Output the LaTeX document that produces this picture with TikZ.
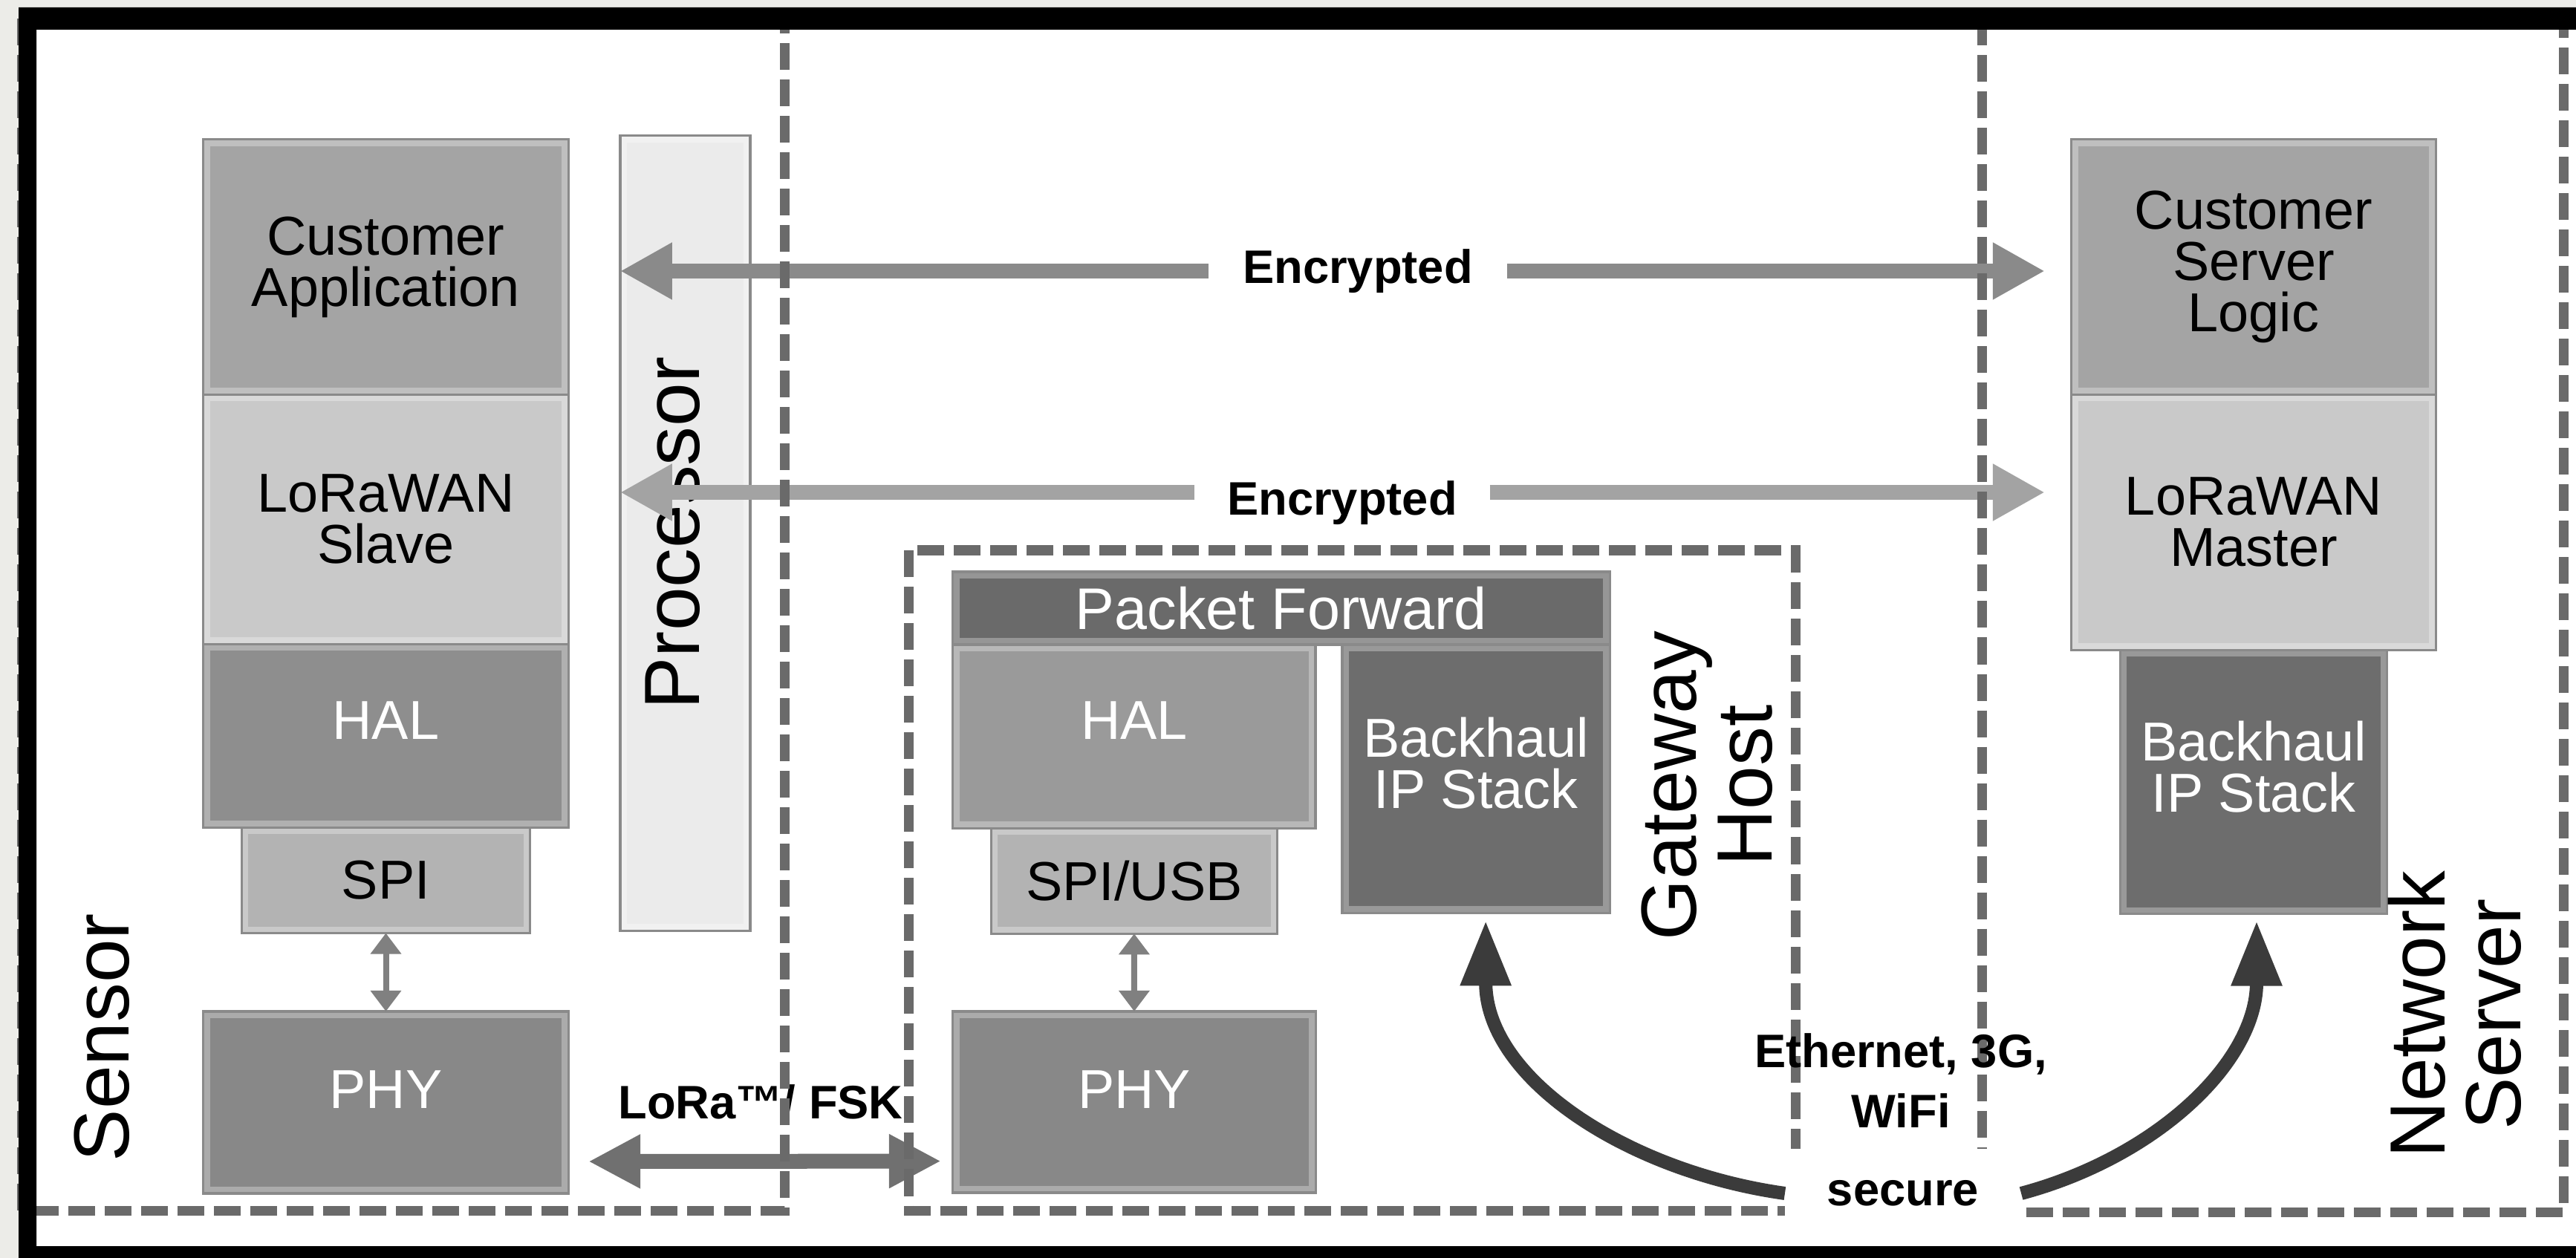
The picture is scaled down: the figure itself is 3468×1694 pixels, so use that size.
\documentclass[tikz,border=0pt]{standalone}
\usepackage{fontspec}
\setmainfont{Liberation Sans}
\usetikzlibrary{positioning,arrows.meta}
\definecolor{paper}{HTML}{ECECE8}
\definecolor{appgray}{HTML}{A4A4A4}
\definecolor{macgray}{HTML}{C9C9C9}
\definecolor{halgray}{HTML}{8E8E8E}
\definecolor{ghalgray}{HTML}{9A9A9A}
\definecolor{spigray}{HTML}{B3B3B3}
\definecolor{phygray}{HTML}{888888}
\definecolor{fwdgray}{HTML}{6A6A6A}
\definecolor{bhgray}{HTML}{6D6D6D}
\definecolor{procgray}{HTML}{EBEBEB}
\definecolor{edgegray}{HTML}{8A8A8A}
\definecolor{dashgray}{HTML}{6A6A6A}
\tikzset{
  layer/.style      = {shape=rectangle, draw=edgegray, line width=0.9pt,
                       outer sep=0pt, inner sep=0pt, align=center,
                       font=\fontsize{21}{19.6}\selectfont,
                       path picture={\draw[white, opacity=0.3, line width=0.18cm]
                         (path picture bounding box.south west) rectangle
                         (path picture bounding box.north east);}},
  darklayer/.style  = {layer, text=white, text depth=0.42cm},
  regionname/.style = {align=center, font=\fontsize{30}{29}\selectfont, rotate=90},
  tag/.style        = {fill=white, inner sep=0pt, outer sep=0pt, text=black,
                       font=\bfseries\fontsize{18}{23}\selectfont},
  note/.style       = {align=center, text=black,
                       font=\bfseries\fontsize{18}{23}\selectfont},
  region/.style     = {draw=dashgray, line width=0.13cm,
                       dash pattern=on 0.36cm off 0.13cm},
  encarrow/.style   = {line width=0.2cm,
                       -{Triangle[length=0.7cm, width=0.72cm]}},
  loraarrow/.style  = {line width=0.2cm, color=black!56,
                       {Triangle[length=0.7cm, width=0.68cm]}-{Triangle[length=0.7cm, width=0.68cm]}},
  linkarrow/.style  = {line width=0.08cm, color=black!50,
                       {Triangle[length=0.28cm, width=0.4cm]}-{Triangle[length=0.28cm, width=0.4cm]}},
  uplink/.style     = {line width=0.18cm, color=black!77,
                       -{Triangle[length=0.88cm, width=0.64cm]}}
}
\begin{document}
\begin{tikzpicture}[x=0.01cm, y=-0.01cm]
  \useasboundingbox (0,0) rectangle (3468,1694);
  \fill[paper] (0,0) rectangle (3468,1694);
  \fill[white] (49,40) rectangle (3468,1678);

  % sensor side
  \node[layer, fill=appgray, minimum width=4.91cm, minimum height=3.43cm] (capp) at (519.5,359.5) {Customer\\Application};
  \node[layer, fill=macgray, minimum width=4.91cm, minimum height=3.36cm, below=0pt of capp] (slave) {LoRaWAN\\Slave};
  \node[darklayer, fill=halgray, minimum width=4.91cm, minimum height=2.47cm, below=0pt of slave] (shal) {HAL};
  \node[layer, fill=spigray, minimum width=3.88cm, minimum height=1.42cm, below=0pt of shal] (sspi) {SPI};
  \node[darklayer, fill=phygray, minimum width=4.91cm, minimum height=2.45cm, text depth=0.34cm] (sphy) at (519.5,1484.5) {PHY};
  \node[layer, fill=procgray, minimum width=1.75cm, minimum height=10.7cm] (proc) at (922.5,718) {};
  \node[regionname] (proctext) at ([xshift=-0.17cm]proc.center) {Processor};
  \node[regionname] (sensor) at (137,1397) {Sensor};

  % gateway
  \node[darklayer, fill=fwdgray, font=\fontsize{22.5}{21}\selectfont, text depth=0cm, minimum width=8.84cm, minimum height=0.98cm] (pfwd) at (1725,819) {Packet Forward};
  \node[darklayer, fill=ghalgray, minimum width=4.88cm, minimum height=2.47cm, anchor=north west] (ghal) at (pfwd.south west) {HAL};
  \node[darklayer, fill=bhgray, minimum width=3.6cm, minimum height=3.61cm, anchor=north east] (gbh) at (pfwd.south east) {Backhaul\\IP Stack};
  \node[layer, fill=spigray, minimum width=3.85cm, minimum height=1.42cm, below=0pt of ghal] (gspi) {SPI/USB};
  \node[darklayer, fill=phygray, minimum width=4.88cm, minimum height=2.44cm, text depth=0.34cm] (gphy) at (1527,1484) {PHY};
  \node[regionname] (gwhost) at (2298,1058) {Gateway\\Host};

  % network server
  \node[layer, fill=appgray, minimum width=4.9cm, minimum height=3.43cm] (csl) at (3034,359.5) {Customer\\Server\\Logic};
  \node[layer, fill=macgray, minimum width=4.9cm, minimum height=3.44cm, below=0pt of csl] (master) {LoRaWAN\\Master};
  \node[darklayer, fill=bhgray, minimum width=3.59cm, minimum height=3.55cm, below=0pt of master] (nbh) {Backhaul\\IP Stack};
  \node[regionname] (netsrv) at (3305,1366) {Network\\Server};

  % links
  \node[tag, minimum width=4.02cm, minimum height=1.2cm] (enc1) at (1828,365) {Encrypted};
  \node[tag, minimum width=3.97cm, minimum height=1.2cm] (enc2) at (1807,677) {Encrypted};
  \draw[encarrow, color=black!46] (enc1.west) -- (enc1.west -| proc.west);
  \draw[encarrow, color=black!46, shorten >=0.36cm] (enc1.east) -- (enc1.east -| csl.west);
  \draw[encarrow, color=black!36] ([yshift=0.14cm]enc2.west) -- ([yshift=0.14cm]enc2.west -| proc.west);
  \draw[encarrow, color=black!36, shorten >=0.36cm] ([yshift=0.14cm]enc2.east) -- ([yshift=0.14cm]enc2.east -| csl.west);
  \draw[loraarrow, shorten <=0.27cm, shorten >=0.16cm] ([yshift=-0.795cm]sphy.east) -- ([yshift=-0.795cm]gphy.west)
    node[note, midway, yshift=0.8cm] {LoRa™/ FSK};
  \draw[linkarrow] (sspi) -- (sphy);
  \draw[linkarrow] (gspi) -- (gphy);

  % dashed areas
  \draw[region] (30,25) rectangle (1056,1630);
  \draw[region] (1223,741) rectangle (2417,1630);
  \draw[region] (2668,25) rectangle (3451,1632);

  % backhaul
  \node[tag, minimum width=3.18cm, minimum height=1.19cm] (secure) at (2562,1607) {secure};
  \node[note] (medium) at (2559,1455) {Ethernet, 3G,\\WiFi};
  \draw[uplink] (secure.west) to[out=172, in=-90] ([xshift=0.13cm, yshift=-0.1cm]gbh.south);
  \draw[uplink] (secure.east) to[out=15, in=-90] ([xshift=0.04cm, yshift=-0.09cm]nbh.south);

  % frame
  \fill[black, even odd rule] (25,10) rectangle (3600,1760) (49,40) rectangle (3600,1678);
\end{tikzpicture}
\end{document}
